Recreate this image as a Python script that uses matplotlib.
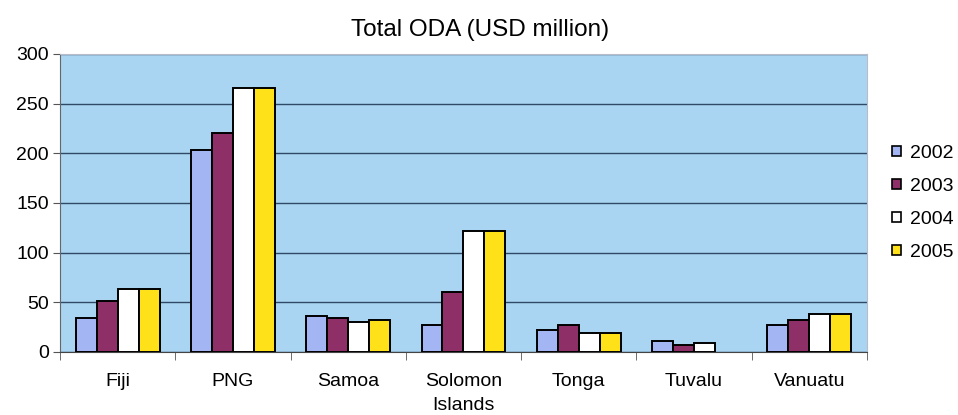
import matplotlib
matplotlib.use("Agg")
import matplotlib.pyplot as plt
import numpy as np

categories = ["Fiji", "PNG", "Samoa", "Solomon\nIslands", "Tonga", "Tuvalu", "Vanuatu"]
years = ["2002", "2003", "2004", "2005"]
v2002 = [34, 203, 36, 27, 22, 11, 27]
v2003 = [51, 220, 34, 60, 27, 7, 32]
v2004 = [63, 266, 30, 122, 19, 9, 38]
v2005 = [63, 266, 32, 122, 19, 0, 38]
series = [v2002, v2003, v2004, v2005]
colors = ["#A3B5F2", "#8E2F67", "#FFFFFF", "#FFE11A"]
yticks = [0, 50, 100, 150, 200, 250, 300]

plt.rcParams['font.family'] = ['Liberation Sans', 'DejaVu Sans']

fig = plt.figure(figsize=(9.58, 4.15), dpi=100)
ax = fig.add_axes([0.0626, 0.152, 0.8424, 0.718])
ax.set_facecolor("#AAD5F2")

x = np.arange(len(categories))
w = 0.182
for i, (vals, c, yr) in enumerate(zip(series, colors, years)):
    bars = ax.bar(x + (i - 1.5) * w, vals, width=w, color=c, edgecolor="black",
                  linewidth=1.4, label=yr, zorder=3)
    for b, v in zip(bars, vals):
        if v == 0:
            b.set_linewidth(0)

ax.set_xlim(-0.5, len(categories) - 0.5)
ax.set_ylim(0, 300)
ax.set_yticks(yticks)
ax.set_yticklabels([str(t) for t in yticks], fontsize=14)
ax.yaxis.grid(True, color="#2E4A66", linewidth=1.0, zorder=1)
ax.set_axisbelow(True)

ax.set_xticks(x)
ax.set_xticklabels(categories, fontsize=14, linespacing=1.55)
ax.tick_params(axis='x', length=0, pad=15)
ax.set_xticks(np.arange(len(categories) + 1) - 0.5, minor=True)
ax.tick_params(axis='x', which='minor', length=6, color="#555555", direction='out')
ax.tick_params(axis='y', length=5, color="#555555", pad=3)

ax.spines['top'].set_color("#B8BCC8")
ax.spines['right'].set_color("#B8BCC8")
ax.spines['left'].set_color("#666666")
ax.spines['bottom'].set_color("#444444")

fig.text(0.501, 0.928, "Total ODA (USD million)", ha="center", va="center", fontsize=17.5)

leg = ax.legend(loc="center left", bbox_to_anchor=(1.031, 0.5), frameon=False,
                fontsize=14, handlelength=0.45, handleheight=0.45, handletextpad=0.45,
                labelspacing=0.82, borderaxespad=0, borderpad=0)
for h in leg.legend_handles:
    h.set_linewidth(1.2)

fig.savefig("out.png", dpi=100)
